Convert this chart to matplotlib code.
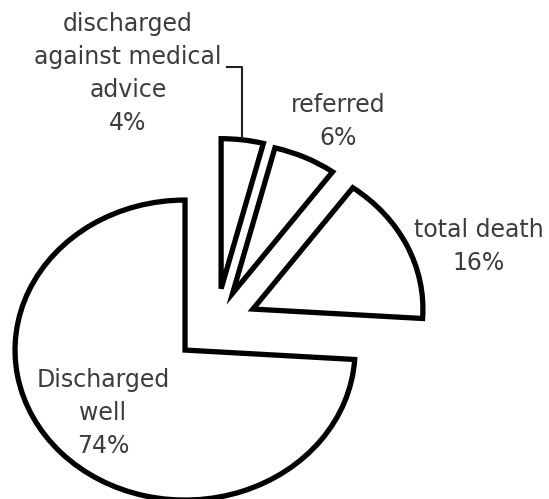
import matplotlib
matplotlib.use("Agg")
import matplotlib.pyplot as plt
from matplotlib.lines import Line2D

categories = ["Discharged well", "total death", "referred", "discharged against medical advice"]
values = [74, 16, 6, 4]
label_texts = ["Discharged\nwell\n74%", "total death\n16%", "referred\n6%",
               "discharged\nagainst medical\nadvice\n4%"]
explode = [0.25, 0.24, 0.23, 0.24]

W, H = 549, 499
fig = plt.figure(figsize=(W / 100, H / 100), dpi=100)
ax = fig.add_axes([0, 0, 1, 1])

wedges, _ = ax.pie(values, explode=explode, startangle=90, counterclock=True,
                   colors=["white"] * 4,
                   wedgeprops=dict(edgecolor="black", linewidth=3.8, joinstyle="miter"))

# pixel scale of the (slightly stretched) pie
cx, cy, sx, sy = 216, 324.4, 170, 150
ax.set_aspect("auto")
ax.set_xlim(-cx / sx, (W - cx) / sx)
ax.set_ylim(-(H - cy) / sy, cy / sy)
ax.axis("off")

# label anchors (pixel x centre, last-line baseline y)
label_pos = [(103, 453), (479, 270), (338, 145), (128, 130)]
for txt, (px, py) in zip(label_texts, label_pos):
    fig.text(px / W, 1 - py / H, txt, ha="center", va="baseline",
             multialignment="center", fontsize=17, color="#3c3c3c",
             family="DejaVu Sans", linespacing=1.48)

# leader line for the small slice
lx = [227 / W, 242 / W, 242 / W]
ly = [1 - 67 / H, 1 - 67 / H, 1 - 138 / H]
fig.add_artist(Line2D(lx, ly, transform=fig.transFigure, color="#202020", linewidth=1.5))

fig.savefig("out.png", dpi=100, facecolor="white")
